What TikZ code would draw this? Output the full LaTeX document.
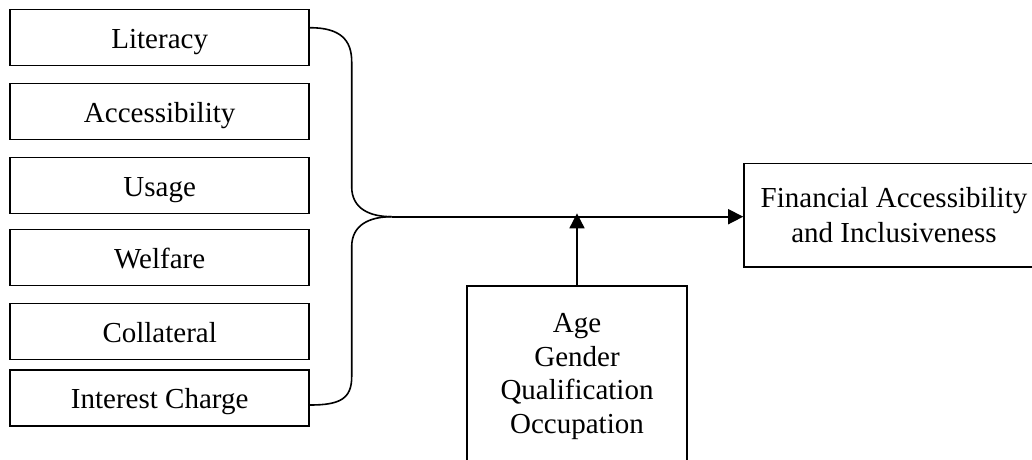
\documentclass[tikz,border=0pt]{standalone}
\usepackage{fontspec}
\setmainfont{Liberation Serif}
\usetikzlibrary{arrows.meta,calc}
\begin{document}
\begin{tikzpicture}[x=1pt,y=-1pt,
  box/.style={draw, line width=1.6pt, rectangle, inner sep=0pt, font=\fontsize{29}{35}\selectfont},
  lbox/.style={box, minimum width=299pt, minimum height=56pt, text height=26pt, text depth=4.4pt},
  conn/.style={line width=1.6pt},
  arr/.style={conn, -{Triangle[length=15pt,width=15pt]}}]
\useasboundingbox (0,0) rectangle (1032,459);
\begin{scope}
\clip (0,0) rectangle (1032,459);
\node[lbox] (lit) at (159.7,37.5) {Literacy};
\node[lbox] (acc) at (159.7,111.3) {Accessibility};
\node[lbox] (usg) at (159.7,185.3) {Usage};
\node[lbox] (wel) at (159.7,257.5) {Welfare};
\node[lbox] (col) at (159.7,331.3) {Collateral};
\node[lbox] (int) at (159.7,397.7) {Interest Charge};
\node[box, minimum width=300pt, minimum height=103.4pt, align=center] (fin) at (894,215) {Financial Accessibility\\and Inclusiveness};
\node[box, font=\fontsize{29}{33.5}\selectfont, minimum width=220pt, minimum height=181pt, anchor=north, align=center] (dem) at (577,285) {Age\\Gender\\Qualification\\Occupation};
\coordinate (tip) at (391.7,216.7);
\draw[conn] ([yshift=9.8pt]lit.east) .. controls +(30,0) and +(0,-22) .. (351.7,61.7) -- (351.7,186.7) .. controls +(0,22) and +(-22,0) .. (tip);
\draw[conn] (tip) .. controls +(-22,0) and +(0,-22) .. (351.7,246.7) -- (351.7,376.7) .. controls +(0,22) and +(30,0) .. ([yshift=-7.3pt]int.east);
\draw[arr] (tip) -- (tip -| fin.west);
\draw[arr] (dem.north) -- ($(dem.north |- tip)+(0,-3.4)$);
\end{scope}
\end{tikzpicture}
\end{document}
